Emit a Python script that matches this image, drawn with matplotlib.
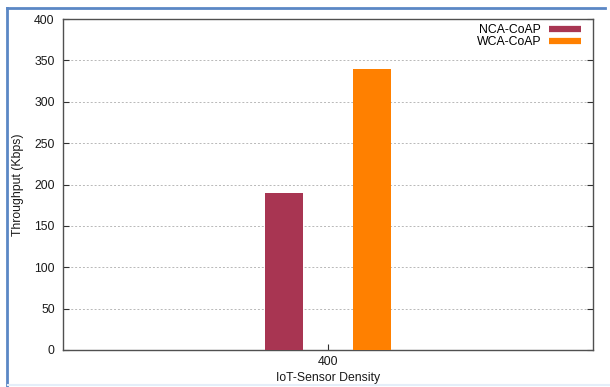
import matplotlib
matplotlib.use("Agg")
import matplotlib.pyplot as plt
from matplotlib.lines import Line2D

plt.rcParams['font.family'] = ['Liberation Sans', 'DejaVu Sans']

categories = ["400"]
series_names = ["NCA-CoAP", "WCA-CoAP"]
nca_values = [190]
wca_values = [340]
y_ticks = [0, 50, 100, 150, 200, 250, 300, 350, 400]
colors = ["#a83552", "#ff8000"]

W, H = 610, 387
fig = plt.figure(figsize=(W / 100, H / 100), dpi=100)
ax = fig.add_axes([63 / W, 1 - 350 / H, (593 - 63) / W, (350 - 19) / H])

x = list(range(len(categories)))
bw = 0.14
off = 0.166
ax.bar([i - off for i in x], nca_values, width=bw, color=colors[0], zorder=3)
ax.bar([i + off for i in x], wca_values, width=bw, color=colors[1], zorder=3)

ax.set_xlim(-1, 1)
ax.set_ylim(0, 400)
ax.set_xticks(x)
ax.set_xticklabels(categories)
ax.set_yticks(y_ticks)
ax.tick_params(axis='both', direction='in', length=4, width=0.8, color='#303030',
               labelsize=8.8, labelcolor='#1a1a1a')
ax.tick_params(axis='y', right=True, pad=6)
ax.tick_params(axis='x', pad=4)
for s in ax.spines.values():
    s.set_color('#505050')
    s.set_linewidth(1.0)

for v in y_ticks[1:-1]:
    ax.axhline(v, color='#b8b8b8', lw=0.7, ls=(0, (2, 2)), zorder=1)

ax.set_ylabel("Throughput (Kbps)", fontsize=8.8, color='#1a1a1a', labelpad=7)
ax.set_xlabel("IoT-Sensor Density", fontsize=8.8, color='#1a1a1a', labelpad=3)

handles = [Line2D([], [], color=c, lw=4.5, solid_capstyle='butt') for c in colors]
ax.legend(handles, series_names, loc='upper right', frameon=False, markerfirst=False,
          fontsize=8.8, handlelength=2.6, handletextpad=0.65, labelspacing=0.0,
          borderaxespad=0.25, bbox_to_anchor=(0.992, 1.008))

# window frame
fig.add_artist(Line2D([7 / W, 7 / W], [0, 1 - 8 / H], transform=fig.transFigure,
                      color='#5b87c5', lw=2))
fig.add_artist(Line2D([7 / W, 605 / W], [1 - 8 / H, 1 - 8 / H], transform=fig.transFigure,
                      color='#5b87c5', lw=2))
fig.add_artist(Line2D([8 / W, 1], [1 - 385 / H, 1 - 385 / H], transform=fig.transFigure,
                      color='#e4eef9', lw=1.5))

fig.savefig("out.png", dpi=100)
